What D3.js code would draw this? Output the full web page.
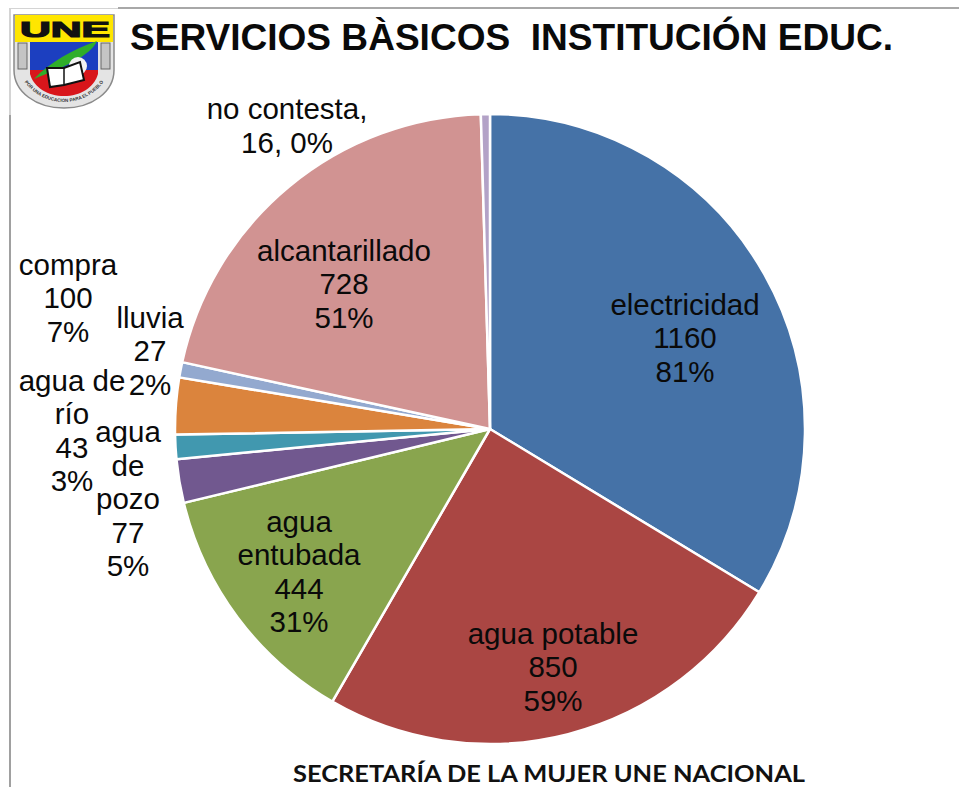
<!DOCTYPE html>
<html><head><meta charset="utf-8">
<script src="https://cdn.jsdelivr.net/npm/d3@7"></script>
<style>html,body{margin:0;padding:0;background:#fff}svg{display:block}</style>
</head><body><svg id="c" width="959" height="787"></svg>
<script>
const categories=["electricidad","agua potable","agua entubada","agua de pozo","agua de río","compra","lluvia","alcantarillado","no contesta"];
const values=[1160,850,444,77,43,100,27,728,16];
const percents=["81%","59%","31%","5%","3%","7%","2%","51%","0%"];
const colors=["#4572A7","#AA4643","#89A54E","#71588F","#4198AF","#DB843D","#93A9CF","#D19392","#B3A2C7"];
const labelLines=[["electricidad","1160","81%"],["agua potable","850","59%"],["agua","entubada","444","31%"],["agua","de","pozo","77","5%"],["agua de","río","43","3%"],["compra","100","7%"],["lluvia","27","2%"],["alcantarillado","728","51%"],["no contesta,","16, 0%"]];
const labelPos=[[685,338],[553,667],[299,572],[128,499],[72,431],[68,298],[150,351],[344,284],[287,126]];
const svg=d3.select("#c");
const font="'Liberation Sans',Arial,sans-serif";
// page frame
svg.append("rect").attr("x",9).attr("y",8).attr("width",2).attr("height",107).attr("fill","#d4d4d4");
svg.append("rect").attr("x",9).attr("y",115).attr("width",2).attr("height",672).attr("fill","#a0a0a0");
svg.append("rect").attr("x",9).attr("y",8).attr("width",109).attr("height",1).attr("fill","#d4d4d4");
svg.append("rect").attr("x",118).attr("y",7).attr("width",841).attr("height",2).attr("fill","#a8a8a8");
// logo
const logo=svg.append("g");
logo.append("path").attr("d","M14,15H114V70C114,92 92,108 64,108C36,108 14,92 14,70Z").attr("fill","#e4e4e4").attr("stroke","#8a8a8a").attr("stroke-width",1.5);
logo.append("rect").attr("x",15).attr("y",15).attr("width",98).attr("height",27).attr("fill","#FFE600");
logo.append("text").attr("x",65).attr("y",37).attr("text-anchor","middle").attr("font-family",font).attr("font-weight",700).attr("font-size",22).attr("textLength",90).attr("lengthAdjust","spacingAndGlyphs").attr("fill","#111").attr("stroke","#111").attr("stroke-width",1.2).text("UNE");
logo.append("rect").attr("x",30).attr("y",42).attr("width",68).attr("height",32).attr("fill","#1c3fc0");
logo.append("path").attr("d","M30,70H98V74C94,88 80,96 64,96C48,96 34,88 30,74Z").attr("fill","#d8161b");
logo.append("rect").attr("x",18).attr("y",43).attr("width",9).attr("height",26).attr("fill","#c4c4c4").attr("stroke","#666");
logo.append("rect").attr("x",101).attr("y",43).attr("width",9).attr("height",26).attr("fill","#c4c4c4").attr("stroke","#666");
logo.append("path").attr("d","M34,79C50,62 72,50 97,41C90,56 66,66 34,79Z").attr("fill","#2fae2a");
logo.append("circle").attr("cx",78).attr("cy",66).attr("r",9).attr("fill","#f2f2f2");
logo.append("path").attr("d","M47,68L64,68L80,62L84,80L64,85L50,87Z").attr("fill","#fff").attr("stroke","#111").attr("stroke-width",2);
logo.append("path").attr("d","M64,68L64,85").attr("stroke","#111").attr("stroke-width",1.5);
logo.append("path").attr("id","motto").attr("d","M18,70C26,90 44,102 64,102C84,102 102,90 110,70").attr("fill","none");
logo.append("text").attr("font-family",font).attr("font-size",4.6).attr("font-weight",700).attr("fill","#333").append("textPath").attr("href","#motto").attr("startOffset","50%").attr("text-anchor","middle").text("POR UNA EDUCACIÓN PARA EL PUEBLO");
// title
svg.append("text").attr("x",130).attr("y",50).attr("font-family",font).attr("font-weight",700).attr("font-size",37).attr("fill","#0a0a0a").attr("textLength",763).attr("lengthAdjust","spacingAndGlyphs").style("white-space","pre").text("SERVICIOS BÀSICOS  INSTITUCIÓN EDUC.");
// pie
const cx=490,cy=429,R=315;
const pie=d3.pie().sort(null).value(d=>d);
const arc=d3.arc().innerRadius(0).outerRadius(R);
svg.append("g").attr("transform",`translate(${cx},${cy})`).selectAll("path").data(pie(values)).join("path")
 .attr("d",arc).attr("fill",(d,i)=>colors[i]).attr("stroke","#fff").attr("stroke-width",2.5).attr("stroke-linejoin","round")
 .append("title").text((d,i)=>`${categories[i]}: ${values[i]} (${percents[i]})`);
// data labels
const lh=33.5;
labelLines.forEach((lines,i)=>{
 const t=svg.append("text").attr("text-anchor","middle").attr("font-family",font).attr("font-size",29.5).attr("fill","#0a0a0a");
 lines.forEach((s,k)=>t.append("tspan").attr("x",labelPos[i][0]).attr("y",labelPos[i][1]-(lines.length-1)*lh/2+k*lh+10).text(s));
});
// footer
svg.append("text").attr("x",293).attr("y",782).attr("font-family","Lato,sans-serif").attr("font-weight",700).attr("font-size",23).attr("fill","#111").attr("textLength",512).attr("lengthAdjust","spacingAndGlyphs").text("SECRETARÍA DE LA MUJER UNE NACIONAL");
</script></body></html>
